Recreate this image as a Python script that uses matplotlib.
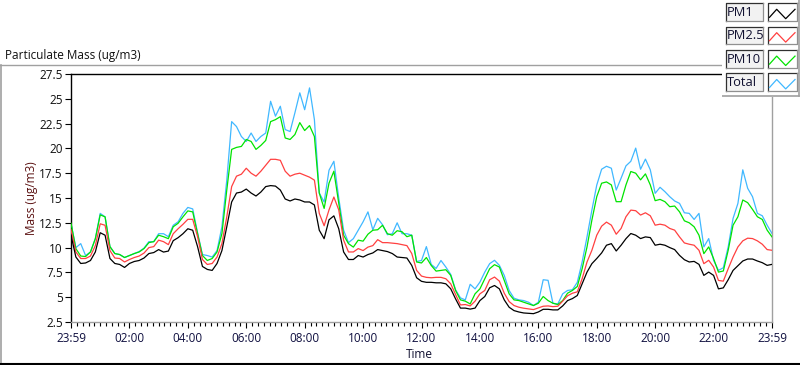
import numpy as np
import matplotlib.pyplot as plt
from matplotlib.patches import Rectangle
from matplotlib.lines import Line2D

# values every 10 minutes starting at 23:59
pm1 = [11.25, 9.05, 8.4, 8.45, 8.7, 9.56, 11.5, 11.25, 8.9, 8.4, 8.3, 8.0, 8.4, 8.6, 8.7, 8.95, 9.4, 9.5, 9.8, 9.55, 9.65, 10.7, 11.0, 11.4, 11.9, 11.75, 10.1, 8.1, 7.8,
       7.7, 8.4, 9.7, 12.1, 14.6, 15.5, 15.6, 15.9, 15.5, 15.2, 15.6, 16.15, 16.25, 16.2, 15.8, 14.9, 14.7, 14.9, 14.8, 14.6, 14.6, 14.3, 11.75, 10.9, 12.8, 13.2, 11.9, 9.56, 8.8,
       8.8, 9.2, 9.05, 9.3, 9.46, 9.8, 9.7, 9.6, 9.4, 9.05, 9.0, 8.95, 8.2, 6.96, 6.6, 6.5, 6.5, 6.45, 6.45, 6.35, 5.85, 4.83, 3.9, 3.9, 3.8, 3.9, 4.66, 5.07, 5.95,
       6.18, 5.84, 4.73, 3.99, 3.65, 3.51, 3.41, 3.38, 3.34, 3.51, 3.78, 3.78, 3.72, 3.72, 4.12, 4.66, 4.86, 5.17, 6.35, 7.53, 8.38, 8.9, 9.46, 10.24, 10.4, 9.66, 10.24, 10.9, 11.42,
       11.25, 10.91, 11.08, 11.01, 10.24, 10.34, 10.24, 10.0, 9.8, 9.22, 8.78, 8.55, 8.61, 8.31, 7.2, 7.53, 7.2, 5.84, 5.94, 6.76, 7.7, 8.18, 8.65, 8.85, 8.85, 8.65, 8.48, 8.21, 8.31]

pm25 = [11.8, 9.56, 8.9, 8.9, 9.15, 10.2, 12.4, 12.25, 9.7, 8.95, 8.9, 8.55, 8.8, 9.0, 9.15, 9.45, 10.0, 10.1, 10.75, 10.6, 10.3, 11.4, 11.9, 12.35, 12.85, 12.85, 11.1, 8.8, 8.3,
        8.4, 9.05, 10.4, 13.1, 16.15, 17.2, 17.4, 18.0, 17.5, 17.2, 17.7, 18.3, 18.9, 18.9, 18.8, 17.7, 17.2, 17.4, 17.5, 17.3, 17.1, 16.8, 13.45, 12.2, 13.8, 15.1, 13.8, 10.75, 9.56,
        9.56, 9.9, 9.7, 10.05, 10.2, 10.8, 10.5, 10.5, 10.45, 10.4, 10.3, 10.2, 9.4, 7.7, 7.13, 7.0, 6.96, 7.0, 7.0, 6.86, 6.35, 5.27, 4.22, 4.26, 4.12, 4.6, 5.34, 5.68, 6.76,
        7.03, 6.62, 5.4, 4.56, 4.16, 3.99, 3.89, 3.82, 3.75, 3.92, 4.09, 4.12, 4.05, 4.09, 4.6, 5.14, 5.4, 5.54, 6.86, 8.55, 9.73, 11.25, 12.16, 12.57, 12.26, 11.35, 11.93, 13.11, 13.78,
        13.72, 13.28, 13.51, 13.21, 12.26, 12.36, 12.26, 11.93, 11.76, 11.08, 10.47, 10.34, 10.24, 9.73, 8.38, 8.72, 8.04, 6.69, 6.62, 7.87, 9.05, 10.07, 10.68, 10.95, 10.91, 10.68, 10.34, 9.8, 9.73]

pm10 = [12.45, 9.9, 9.15, 9.1, 9.56, 10.9, 13.3, 13.1, 10.1, 9.4, 9.3, 9.0, 9.2, 9.4, 9.56, 9.9, 10.5, 10.6, 11.25, 11.1, 10.9, 12.1, 12.45, 13.1, 13.7, 13.6, 11.4, 9.2, 8.7,
        8.9, 9.56, 11.4, 15.8, 19.9, 20.1, 20.2, 20.9, 20.7, 19.9, 20.3, 20.8, 22.7, 22.9, 23.2, 21.05, 20.9, 21.4, 22.6, 21.8, 22.3, 21.2, 15.5, 13.95, 16.5, 17.7, 14.5, 11.25, 10.4,
        10.05, 10.75, 10.65, 11.35, 11.75, 11.8, 12.25, 11.4, 11.25, 11.7, 11.6, 11.1, 11.25, 8.55, 8.45, 9.0, 8.2, 7.63, 7.7, 7.77, 7.2, 5.68, 4.73, 4.6, 4.32, 5.34, 5.84, 6.86, 7.87,
        8.28, 8.04, 6.69, 5.34, 4.73, 4.66, 4.49, 4.32, 4.16, 4.39, 5.07, 4.66, 4.39, 4.26, 4.66, 5.4, 5.68, 6.08, 7.87, 10.07, 12.77, 15.13, 16.49, 16.62, 16.32, 14.63, 14.63, 16.32, 17.67,
        17.5, 16.83, 17.43, 16.32, 14.73, 14.86, 14.63, 14.12, 14.19, 13.61, 12.7, 12.5, 12.1, 11.25, 9.39, 10.07, 8.89, 7.53, 7.64, 9.73, 12.26, 13.11, 14.8, 14.53, 13.85, 13.11, 12.84, 11.76, 11.08]

total = [12.45, 10.0, 10.4, 9.2, 9.56, 10.9, 13.45, 13.1, 10.1, 9.4, 9.3, 9.0, 9.2, 9.4, 9.6, 9.95, 10.6, 10.6, 11.4, 11.4, 11.1, 12.25, 12.6, 13.45, 14.05, 13.9, 11.5, 9.3, 9.2,
         9.05, 9.7, 12.1, 16.8, 22.7, 22.2, 21.2, 20.7, 21.55, 20.7, 21.2, 21.55, 24.75, 23.25, 24.25, 21.9, 21.7, 23.6, 25.6, 23.9, 26.1, 22.9, 15.5, 14.6, 17.8, 18.7, 15.0, 11.75, 10.5,
         10.9, 11.75, 12.6, 13.6, 11.8, 12.95, 12.3, 11.3, 11.4, 12.5, 11.4, 11.4, 11.25, 8.6, 8.7, 10.1, 8.3, 7.9, 8.7, 8.04, 7.3, 5.75, 4.93, 4.73, 6.3, 5.84, 6.52, 7.53, 8.38,
         8.72, 8.21, 7.2, 5.68, 4.9, 4.73, 4.66, 4.49, 4.16, 4.49, 6.76, 6.7, 4.39, 4.32, 5.34, 5.68, 5.75, 6.5, 8.55, 11.08, 13.78, 16.3, 17.9, 18.2, 18.0, 15.8, 17.0, 18.24, 18.7,
         20.03, 17.9, 18.92, 17.84, 15.47, 16.08, 15.64, 15.13, 14.7, 14.46, 13.51, 13.45, 12.84, 13.45, 10.07, 10.91, 8.72, 7.7, 7.97, 10.07, 12.94, 14.46, 17.84, 15.98, 15.13, 13.45, 13.21, 12.26, 11.42]

names = ['PM1', 'PM2.5', 'PM10', 'Total']
colors = ['#000000', '#ff4040', '#00e400', '#40b8ff']
xlabels = ['23:59', '02:00', '04:00', '06:00', '08:00', '10:00', '12:00',
           '14:00', '16:00', '18:00', '20:00', '22:00', '23:59']
yticks = np.arange(2.5, 27.6, 2.5)

minutes = np.arange(len(pm1)) * 10

plt.rcParams['font.family'] = ['Open Sans', 'DejaVu Sans']

W, H = 800, 365
fig = plt.figure(figsize=(W / 100, H / 100), dpi=100)
fig.patch.set_facecolor('white')


def fx(x):
    return x / W


def fy(y):
    return 1 - y / H


# frame lines of the panel
fig.add_artist(Line2D([fx(0), fx(722)], [fy(64.5), fy(64.5)], color='#a0a0a0', lw=1, transform=fig.transFigure))
fig.add_artist(Line2D([fx(1), fx(1)], [fy(64.5), fy(363)], color='#a0a0a0', lw=1.2, transform=fig.transFigure))
fig.add_artist(Line2D([fx(0), fx(800)], [fy(363.8), fy(363.8)], color='black', lw=1.5, transform=fig.transFigure))

fig.text(fx(5), fy(55), 'Particulate Mass (ug/m3)', fontsize=8.5, va='center', ha='left', color='#101010')

ax = fig.add_axes([fx(71), fy(322), fx(772) - fx(71), fy(74) - fy(322)])
series = [pm1, pm25, pm10, total]
zs = [5, 4, 3, 2]
for vals, c, z in zip(series, colors, zs):
    ax.plot(minutes, vals, color=c, lw=0.9, zorder=z)

ax.set_xlim(0, 1440)
ax.set_ylim(2.5, 27.5)
ax.set_yticks(yticks)
ax.set_yticklabels(['%g' % v for v in yticks])
ax.set_xticks(np.arange(0, 1441, 120))
ax.set_xticklabels(xlabels)
ax.set_xticks(np.arange(0, 1441, 12), minor=True)

for s in ['top', 'left']:
    ax.spines[s].set_color('black')
for s in ['bottom', 'right']:
    ax.spines[s].set_color('#a0a0a0')
for s in ax.spines.values():
    s.set_linewidth(1.0)

ax.tick_params(axis='y', length=4.5, width=0.8, color='black', pad=1.5, labelsize=8.5, labelcolor='#101010')
ax.tick_params(axis='x', which='major', length=4.5, width=0.8, color='black', pad=2.5, labelsize=8.5, labelcolor='#101040')
ax.tick_params(axis='x', which='minor', length=2.8, width=0.8, color='black')

fig.text(fx(32), fy(198), 'Mass (ug/m3)', rotation=90, fontsize=8.5, ha='center', va='center', color='#5a1010')
fig.text(fx(419), fy(354), 'Time', fontsize=8.5, ha='center', va='center', color='#101030')

# legend panel in pixel coordinates
lax = fig.add_axes([fx(722), fy(97), fx(800) - fx(722), fy(0) - fy(97)])
lax.set_zorder(10)
lax.set_xlim(722, 800)
lax.set_ylim(97, 0)
lax.axis('off')
lax.add_patch(Rectangle((722, 0), 78, 96.5, facecolor='white', edgecolor='none'))
lax.plot([722, 799], [96, 96], color='#a0a0a0', lw=1.2)
lax.plot([799, 799], [0, 96], color='#a0a0a0', lw=1.2)

for i, (name, c) in enumerate(zip(names, colors)):
    top = 3.3 + i * 23.4
    bot = top + 17.6
    # label box
    lax.add_patch(Rectangle((725.5, top), 37.5, 17.6, facecolor='#f2f2f2', edgecolor='none'))
    lax.plot([725.5, 725.5, 763], [bot, top, top], color='#303030', lw=0.9)
    lax.plot([725.5, 763, 763], [bot, bot, top], color='#909090', lw=0.9)
    lax.text(727, top + 9, name, fontsize=9.3, va='center', ha='left', color='#101030')
    # swatch box
    lax.add_patch(Rectangle((768, top), 29, 17.6, facecolor='white', edgecolor='none'))
    lax.plot([768, 768, 797], [bot, top, top], color='#303030', lw=0.9)
    lax.plot([768, 797, 797], [bot, bot, top], color='#909090', lw=0.9)
    lax.plot([769.5, 776.7, 785.7, 795], [top + 14, top + 6, top + 15.4, top + 6], color=c, lw=0.9)

fig.savefig('out.png', dpi=100)
